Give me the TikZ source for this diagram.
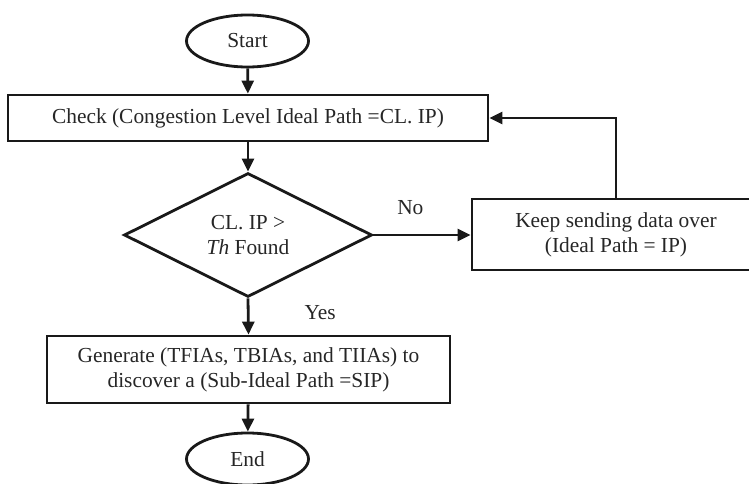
\documentclass[tikz,border=0pt]{standalone}
\usepackage{fontspec}
\setmainfont{Liberation Serif}
\usetikzlibrary{shapes.geometric,arrows.meta}

\tikzset{
  base/.style={draw=black!90, line width=2.8pt, font=\fontsize{21.4}{25}\selectfont, text=black!85, align=center, inner sep=0pt},
  terminal/.style={base, ellipse, minimum width=122pt, minimum height=52pt},
  process/.style={base, rectangle},
  decision/.style={base, diamond, minimum width=248pt, minimum height=124pt},
  flow/.style={draw=black!90, line width=2.8pt, -{Triangle[length=13pt,width=12pt]}},
  lbl/.style={font=\fontsize{21.4}{25}\selectfont, text=black!85, inner sep=0pt}
}

\begin{document}
\begin{tikzpicture}[x=1pt,y=-1pt]
  \useasboundingbox (0,0) rectangle (749,484);

  \node[terminal] (start) at (247.5,41) {Start};
  \node[process, minimum width=480pt, minimum height=46pt] (check) at (248,118)
    {Check (Congestion Level Ideal Path =CL. IP)};
  \node[decision] (dec) at (248,235) {CL. IP >\\\textit{Th} Found};
  \node[process, minimum width=288pt, minimum height=71pt] (keep) at (616,234.5)
    {Keep sending data over\\(Ideal Path = IP)};
  \node[process, minimum width=403pt, minimum height=67pt] (gen) at (248.5,369.5)
    {Generate (TFIAs, TBIAs, and TIIAs) to\\discover a (Sub-Ideal Path =SIP)};
  \node[terminal] (end) at (247.5,459) {End};

  \draw[flow] (start) -- (check);
  \draw[flow] (check.south -| dec.north) -- (dec.north);
  \draw[flow] (dec.east) -- (keep.west |- dec.east)
    node[lbl, pos=0.38, above=19pt] {No};
  \draw[flow] (keep.north) |- (check.east);
  \draw[flow] (dec.south) -- (gen.north)
    node[lbl, midway, right=55pt, yshift=4pt] {Yes};
  \draw[flow] (gen) -- (end);
\end{tikzpicture}
\end{document}
